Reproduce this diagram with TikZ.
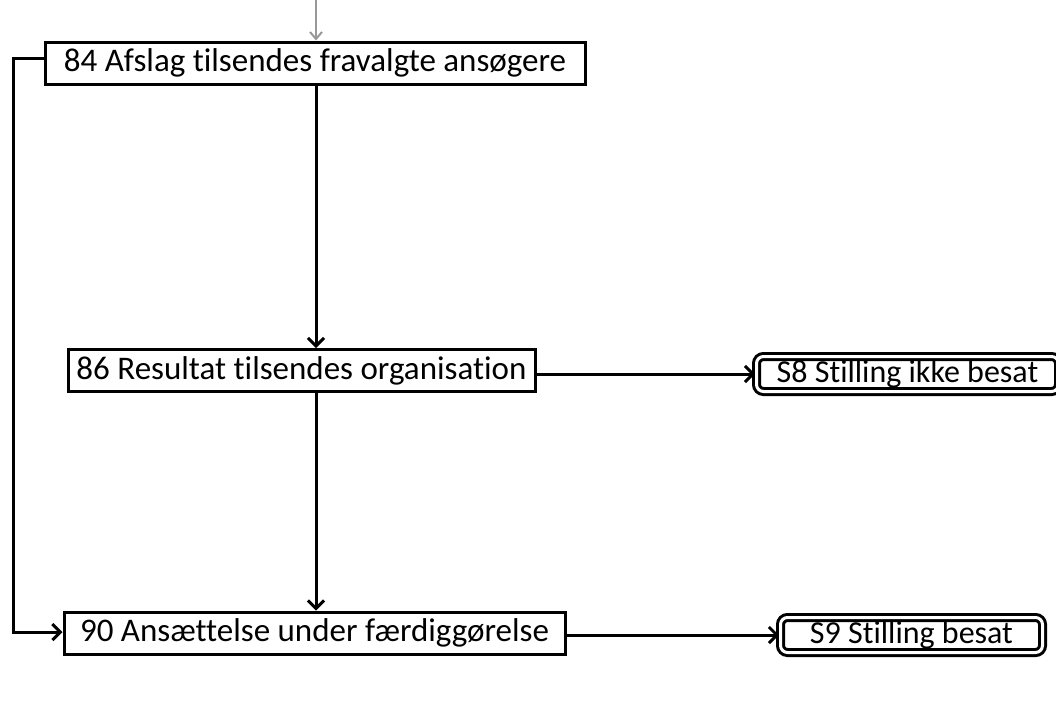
\documentclass[tikz,border=0pt]{standalone}
\usepackage{fontspec}
\setmainfont{Carlito}[Ligatures=NoCommon]
\usetikzlibrary{arrows.meta}
\begin{document}
\begin{tikzpicture}[x=1pt,y=-1pt,
  box/.style={draw,line width=3pt,rectangle,inner sep=0pt,minimum height=42pt,font=\fontsize{33}{36}\selectfont},
  endbox/.style={draw,line width=3pt,double,double distance=3pt,rounded corners=7pt,inner sep=0pt,minimum height=35pt,font=\fontsize{32}{36}\selectfont},
  conn/.style={line width=3pt,-{Straight Barb[length=8pt,width=16pt,line width=3pt]}}]
\useasboundingbox (0,0) rectangle (1056,710);
\node[box,minimum width=540pt] (n84) at (315,63) {84 Afslag tilsendes fravalgte ansøgere};
\node[box,minimum width=467pt] (n86) at (301.5,370.5) {86 Resultat tilsendes organisation};
\node[box,minimum width=501pt] (n90) at (314.5,633) {90 Ansættelse under færdiggørelse};
\node[endbox,minimum width=302pt] (s8) at (907.5,374) {S8 Stilling ikke besat};
\node[endbox,minimum width=262pt] (s9) at (911.5,635) {S9 Stilling besat};
\coordinate (top) at (316,0);
\coordinate (lt) at (13,58);
\coordinate (lb) at (13,632);
\draw[line width=2pt,gray!80,-{Straight Barb[length=7pt,width=12pt,line width=2pt]}] (top) -- (top |- n84.north);
\draw[conn] (n84.south -| top) -- (top |- n86.north);
\draw[conn] (n86.south -| top) -- (top |- n90.north);
\draw[conn] (n84.west |- lt) -- (lt) -- (lb) -- (n90.west |- lb);
\draw[conn] (n86.east |- s8.west) -- (s8.west);
\draw[conn] (n90.east |- s9.west) -- (s9.west);
\end{tikzpicture}
\end{document}
